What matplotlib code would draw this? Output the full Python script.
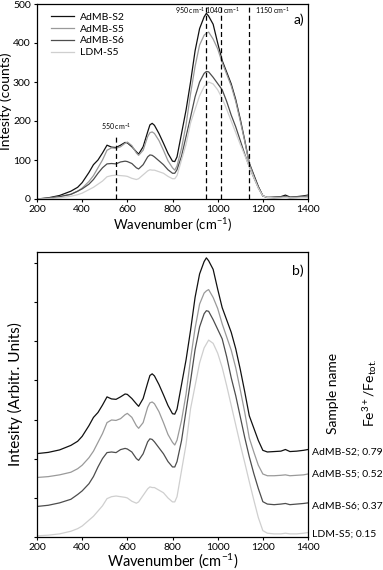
import matplotlib
matplotlib.use("Agg")
import matplotlib.pyplot as plt
import numpy as np

plt.rcParams['font.family'] = ['Lato', 'DejaVu Sans']
plt.rcParams['mathtext.default'] = 'regular'

wavenumber = [200, 250, 300, 350, 380, 400, 430, 450, 470, 490, 510, 530, 550, 570, 590,
              600, 620, 640, 650, 670, 690, 700, 710, 720, 740, 760, 780, 800, 810, 820,
              840, 860, 880, 900, 920, 940, 950, 960, 980, 1000, 1020, 1040, 1060, 1080, 1100,
              1120, 1140, 1160, 1180, 1200, 1220, 1250, 1280, 1300, 1320, 1350, 1380, 1400]

admb_s2 = [0, 3, 9, 20, 30, 42, 68, 88, 100, 118, 138, 133, 132, 138, 145,
           144, 134, 121, 115, 134, 172, 190, 194, 189, 168, 143, 117, 97, 96, 108,
           168, 228, 300, 380, 437, 467, 476, 469, 448, 400, 355, 325, 295, 255, 205,
           150, 92, 62, 32, 8, 4, 5, 6, 10, 5, 6, 8, 10]
admb_s5 = [0, 2, 6, 12, 20, 28, 45, 60, 80, 100, 125, 131, 130, 134, 143,
           146, 137, 118, 112, 125, 160, 170, 172, 168, 150, 125, 98, 80, 74, 85,
           130, 190, 270, 340, 395, 420, 425, 428, 410, 385, 350, 320, 290, 250, 200,
           148, 90, 58, 28, 8, 4, 4, 5, 6, 4, 5, 6, 8]
admb_s6 = [0, 2, 6, 12, 20, 26, 38, 50, 66, 80, 90, 91, 90, 95, 97,
           96, 91, 80, 77, 88, 108, 113, 112, 108, 98, 88, 75, 66, 66, 75,
           110, 160, 210, 262, 300, 322, 327, 326, 312, 296, 280, 250, 215, 185, 150,
           115, 83, 55, 30, 8, 4, 3, 4, 5, 3, 4, 5, 6]
ldm_s5 = [0, 1, 3, 7, 11, 15, 24, 30, 38, 46, 57, 60, 61, 60, 59,
          58, 53, 50, 52, 62, 72, 75, 74, 74, 70, 66, 58, 52, 52, 60,
          100, 140, 195, 230, 265, 288, 294, 300, 295, 280, 258, 230, 200, 170, 140,
          112, 83, 55, 28, 8, 4, 3, 3, 4, 3, 3, 4, 5]

sample_names = ['AdMB-S2', 'AdMB-S5', 'AdMB-S6', 'LDM-S5']
fe_ratio = [0.79, 0.52, 0.37, 0.15]
series = [admb_s2, admb_s5, admb_s6, ldm_s5]
colors = ['#111111', '#9a9a9a', '#4d4d4d', '#cfcfcf']

# stacked (panel b) offsets and normalised peak heights
offsets = [2.13, 1.52, 0.78, 0.03]
peak_heights = [5.0, 4.8, 5.0, 5.0]

marker_lines = [550, 950, 1016, 1140]
marker_texts = ['550 cm$^{-1}$', '950 cm$^{-1}$', '1040 cm$^{-1}$', '1150 cm$^{-1}$']

fig = plt.figure(figsize=(3.83, 5.70), dpi=100)

# ---------- panel a ----------
ax1 = fig.add_axes([37/383, 1-199/570, 271/383, 195/570])
for name, ys, c in zip(sample_names, series, colors):
    ax1.plot(wavenumber, ys, color=c, lw=0.9, label=name)
ax1.set_xlim(200, 1400)
ax1.set_ylim(0, 500)
ax1.set_xticks(range(200, 1401, 200))
ax1.set_yticks(range(0, 501, 100))
ax1.tick_params(labelsize=7.5, length=2.5, width=0.8, pad=2)
ax1.set_xlabel('Wavenumber (cm$^{-1}$)', fontsize=9.5, labelpad=1)
ax1.set_ylabel('Intesity (counts)', fontsize=10, labelpad=1)
for s in ax1.spines.values():
    s.set_linewidth(0.9)

ax1.plot([marker_lines[0]] * 2, [0, 160], ls=(0, (4, 2.5)), color='k', lw=0.9)
ax1.text(marker_lines[0], 172, marker_texts[0], fontsize=5, ha='center', va='bottom')
for xv in marker_lines[1:]:
    ax1.axvline(xv, ls=(0, (4, 2.5)), color='k', lw=0.9)
ax1.text(marker_lines[1] - 4, 483, marker_texts[1], fontsize=5, ha='right', va='center')
ax1.text(marker_lines[2] + 5, 483, marker_texts[2], fontsize=5, ha='center', va='center')
ax1.text(marker_lines[3] + 25, 483, marker_texts[3], fontsize=5, ha='left', va='center')
ax1.text(0.985, 0.95, 'a)', transform=ax1.transAxes, fontsize=10, ha='right', va='top')

leg = ax1.legend(loc='upper left', fontsize=7.5, frameon=False, handlelength=2.2,
                 handletextpad=0.6, labelspacing=0.25, borderaxespad=0.4,
                 bbox_to_anchor=(0.02, 1.0))

# ---------- panel b ----------
ax2 = fig.add_axes([37/383, 1-537/570, 271/383, 285/570])
for ys, c, off, ph in zip(series, colors, offsets, peak_heights):
    arr = np.asarray(ys, dtype=float)
    ax2.plot(wavenumber, arr / arr.max() * ph + off, color=c, lw=0.9)
ax2.set_xlim(200, 1400)
ax2.set_ylim(0, 7.28)
ax2.set_xticks(range(200, 1401, 200))
ax2.set_yticks(range(0, 8))
ax2.set_yticklabels([])
ax2.tick_params(axis='x', labelsize=7.5, length=2.5, width=0.8, pad=2)
ax2.tick_params(axis='y', length=2.5, width=0.8)
ax2.set_xlabel('Wavenumber (cm$^{-1}$)', fontsize=10.5, labelpad=-0.5)
ax2.set_ylabel('Intesity (Arbitr. Units)', fontsize=11, labelpad=4)
for s in ax2.spines.values():
    s.set_linewidth(0.9)
ax2.text(0.985, 0.955, 'b)', transform=ax2.transAxes, fontsize=10, ha='right', va='top')

label_y = [2.17, 1.60, 0.78, 0.08]
for name, fr, ly in zip(sample_names, fe_ratio, label_y):
    ax2.text(1.015, ly, f'{name}; {fr:.2f}', transform=ax2.get_yaxis_transform(),
             fontsize=7.5, ha='left', va='center')

fig.text(333/383, 1-393/570, 'Sample name', rotation=90, fontsize=10,
         ha='center', va='center')
fig.text(370/383, 1-393/570, 'Fe$^{3+}$/Fe$_{tot.}$', rotation=90, fontsize=10,
         ha='center', va='center')

fig.savefig('out.png', dpi=100)
